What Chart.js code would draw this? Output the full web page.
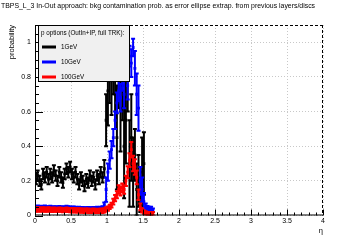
<!DOCTYPE html>
<html>
<head>
<meta charset="utf-8">
<script src="https://cdn.jsdelivr.net/npm/chart.js@4.4.0/dist/chart.umd.min.js"></script>
<style>
  html, body { margin: 0; padding: 0; background: #fff; }
  #wrap { width: 360px; height: 240px; }
</style>
</head>
<body>
<div id="wrap"><canvas id="c"></canvas></div>
<script>
// ---- data ----
const titleText = 'TBPS_L_3 In-Out approach: bkg contamination prob. as error ellipse extrap. from previous layers/discs';
const legendHeader = 'p options (OutIn+IP, full TRK):';
const seriesNames = ['1GeV', '10GeV', '100GeV'];
const seriesColors = ['#000000', '#0000ff', '#ff0000'];

const xTicks = [0, 0.5, 1, 1.5, 2, 2.5, 3, 3.5, 4];
const yTicks = [0, 0.2, 0.4, 0.6, 0.8, 1];
const binHalf = 0.0125;

const eta = [
  0.0125, 0.0375, 0.0625, 0.0875, 0.1125, 0.1375, 0.1625, 0.1875, 0.2125, 0.2375,
  0.2625, 0.2875, 0.3125, 0.3375, 0.3625, 0.3875, 0.4125, 0.4375, 0.4625, 0.4875,
  0.5125, 0.5375, 0.5625, 0.5875, 0.6125, 0.6375, 0.6625, 0.6875, 0.7125, 0.7375,
  0.7625, 0.7875, 0.8125, 0.8375, 0.8625, 0.8875, 0.9125, 0.9375, 0.9625, 0.9875,
  1.0125, 1.0375, 1.0625, 1.0875, 1.1125, 1.1375, 1.1625, 1.1875, 1.2125, 1.2375,
  1.2625, 1.2875, 1.3125, 1.3375, 1.3625, 1.3875, 1.4125, 1.4375, 1.4625, 1.4875,
  1.5125, 1.5375, 1.5625, 1.5875, 1.6125, 1.6375
];

const p1 = [
  0.21, 0.23, 0.20, 0.18, 0.24, 0.22, 0.25, 0.21, 0.24, 0.22,
  0.26, 0.23, 0.20, 0.25, 0.22, 0.19, 0.24, 0.27, 0.25, 0.28,
  0.24, 0.22, 0.25, 0.21, 0.18, 0.22, 0.20, 0.17, 0.21, 0.19,
  0.23, 0.20, 0.22, 0.18, 0.23, 0.21, 0.25, 0.22, 0.27, 0.55,
  0.72, 0.85, 0.78, 0.90, 0.70, 0.45, 0.82, 0.62, 0.75, 0.40,
  0.55, 0.80, 0.30, 0.45, 0.25, 0.35, 0.15, 0.20, 0.12, 0.25,
  0.30, null, null, null, null, null
];
const e1 = [
  0.03, 0.03, 0.03, 0.03, 0.03, 0.03, 0.03, 0.03, 0.03, 0.03,
  0.03, 0.03, 0.03, 0.03, 0.03, 0.03, 0.03, 0.03, 0.03, 0.03,
  0.03, 0.03, 0.03, 0.03, 0.03, 0.03, 0.03, 0.03, 0.03, 0.03,
  0.03, 0.03, 0.03, 0.03, 0.03, 0.03, 0.03, 0.03, 0.05, 0.15,
  0.20, 0.20, 0.20, 0.20, 0.20, 0.30, 0.20, 0.25, 0.20, 0.30,
  0.25, 0.20, 0.25, 0.25, 0.20, 0.15, 0.15, 0.15, 0.10, 0.20,
  0.18, null, null, null, null, null
];

const p10 = [
  0.045, 0.050, 0.045, 0.048, 0.045, 0.050, 0.046, 0.045, 0.048, 0.044,
  0.046, 0.045, 0.044, 0.047, 0.045, 0.043, 0.046, 0.048, 0.045, 0.044,
  0.042, 0.044, 0.043, 0.041, 0.042, 0.040, 0.041, 0.039, 0.040, 0.041,
  0.039, 0.040, 0.041, 0.040, 0.042, 0.041, 0.043, 0.045, 0.060, 0.150,
  0.250, 0.320, 0.380, 0.450, 0.550, 0.650, 0.720, 0.680, 0.780, 0.700,
  0.850, 0.750, 0.920, 0.880, 0.970, 0.850, 0.700, 0.620, 0.200, 0.150,
  0.080, 0.050, 0.040, 0.040, 0.040, 0.030
];
const e10 = [
  0.008, 0.008, 0.008, 0.008, 0.008, 0.008, 0.008, 0.008, 0.008, 0.008,
  0.008, 0.008, 0.008, 0.008, 0.008, 0.008, 0.008, 0.008, 0.008, 0.008,
  0.008, 0.008, 0.008, 0.008, 0.008, 0.008, 0.008, 0.008, 0.008, 0.008,
  0.008, 0.008, 0.008, 0.008, 0.008, 0.008, 0.008, 0.008, 0.015, 0.07,
  0.05, 0.05, 0.05, 0.05, 0.05, 0.06, 0.06, 0.08, 0.06, 0.08,
  0.06, 0.08, 0.06, 0.08, 0.05, 0.10, 0.12, 0.13, 0.08, 0.07,
  0.05, 0.02, 0.015, 0.01, 0.01, 0.01
];

const p100 = [
  0.035, 0.034, 0.036, 0.033, 0.035, 0.034, 0.033, 0.035, 0.034, 0.032,
  0.034, 0.033, 0.032, 0.034, 0.033, 0.031, 0.032, 0.034, 0.032, 0.031,
  0.030, 0.031, 0.030, 0.029, 0.030, 0.028, 0.029, 0.027, 0.028, 0.028,
  0.026, 0.027, 0.028, 0.026, 0.027, 0.026, 0.028, 0.027, 0.030, 0.035,
  0.040, 0.050, 0.060, 0.080, 0.100, 0.120, 0.150, 0.140, 0.160, 0.150,
  0.200, 0.250, 0.320, 0.380, 0.300, 0.280, 0.220, 0.120, 0.050, 0.030,
  0.020, 0.015, 0.010, 0.010, 0.010, 0.010
];
const e100 = [
  0.012, 0.012, 0.012, 0.012, 0.012, 0.012, 0.012, 0.012, 0.012, 0.012,
  0.012, 0.012, 0.012, 0.012, 0.012, 0.012, 0.012, 0.012, 0.012, 0.012,
  0.012, 0.012, 0.012, 0.012, 0.012, 0.012, 0.012, 0.012, 0.012, 0.012,
  0.012, 0.012, 0.012, 0.012, 0.012, 0.012, 0.012, 0.012, 0.012, 0.012,
  0.012, 0.012, 0.014, 0.016, 0.018, 0.020, 0.025, 0.025, 0.025, 0.025,
  0.030, 0.035, 0.040, 0.045, 0.045, 0.045, 0.040, 0.030, 0.020, 0.012,
  0.010, 0.010, 0.010, 0.010, 0.010, 0.010
];

const values = [p1, p10, p100];
const errors = [e1, e10, e100];

// ---- helpers ----
const FONT = '"Liberation Sans", Arial, sans-serif';

function toPoints(ys) {
  return eta.map((x, i) => ys[i] == null ? null : { x: x, y: ys[i] }).filter(p => p);
}
function toErrs(ys, es) {
  return eta.map((x, i) => ys[i] == null ? null : es[i]).filter(e => e != null);
}

// error bars (vertical + bin width), drawn with each dataset
const errorBars = {
  id: 'errorBars',
  afterDatasetDraw(chart, args) {
    const ds = chart.data.datasets[args.index];
    const xs = chart.scales.x, ys = chart.scales.y;
    const ctx = chart.ctx;
    const area = chart.chartArea;
    ctx.save();
    ctx.beginPath();
    ctx.rect(area.left, area.top, area.right - area.left, area.bottom - area.top);
    ctx.clip();
    ctx.strokeStyle = ds.borderColor;
    ctx.lineWidth = 2;
    ds.data.forEach((p, i) => {
      const err = ds.errs[i];
      const px = xs.getPixelForValue(p.x);
      const yTop = ys.getPixelForValue(p.y + err);
      const yBot = ys.getPixelForValue(Math.max(0, p.y - err));
      const xl = xs.getPixelForValue(p.x - binHalf);
      const xr = xs.getPixelForValue(p.x + binHalf);
      const py = ys.getPixelForValue(p.y);
      ctx.beginPath();
      ctx.moveTo(px, yTop); ctx.lineTo(px, yBot);
      ctx.moveTo(xl, py); ctx.lineTo(xr, py);
      ctx.moveTo(px - 2, yTop); ctx.lineTo(px + 2, yTop);
      ctx.moveTo(px - 2, yBot); ctx.lineTo(px + 2, yBot);
      ctx.stroke();
    });
    ctx.restore();
  }
};

// frame, inner ticks, titles, legend box
const decor = {
  id: 'decor',
  afterDraw(chart) {
    const ctx = chart.ctx;
    const a = chart.chartArea;
    const xs = chart.scales.x, ys = chart.scales.y;
    ctx.save();
    ctx.strokeStyle = '#000';
    ctx.lineWidth = 1;

    // dashed top/right frame
    ctx.setLineDash([3, 2]);
    ctx.beginPath();
    ctx.moveTo(a.left, a.top + 0.5); ctx.lineTo(a.right, a.top + 0.5);
    ctx.moveTo(a.right - 0.5, a.top); ctx.lineTo(a.right - 0.5, a.bottom);
    ctx.stroke();
    ctx.setLineDash([]);

    // solid axes
    ctx.beginPath();
    ctx.moveTo(a.left + 0.5, a.top); ctx.lineTo(a.left + 0.5, a.bottom);
    ctx.moveTo(a.left, a.bottom - 0.5); ctx.lineTo(a.right, a.bottom - 0.5);
    ctx.stroke();

    // x ticks (inside)
    ctx.beginPath();
    for (let k = 0; k <= 40; k++) {
      const v = k * 0.1;
      const px = Math.round(xs.getPixelForValue(v)) + 0.5;
      const len = (k % 5 === 0) ? 6 : 3;
      ctx.moveTo(px, a.bottom); ctx.lineTo(px, a.bottom - len);
    }
    // y ticks (inside)
    for (let k = 0; k <= 22; k++) {
      const v = k * 0.05;
      const py = Math.round(ys.getPixelForValue(v)) + 0.5;
      const len = (k % 4 === 0) ? 8 : 4;
      ctx.moveTo(a.left, py); ctx.lineTo(a.left + len, py);
    }
    ctx.stroke();

    // main title
    ctx.fillStyle = '#000';
    ctx.font = '6.9px ' + FONT;
    ctx.textBaseline = 'middle';
    ctx.textAlign = 'left';
    ctx.fillText(titleText, 1, 6);

    // axis titles
    ctx.font = '7.5px ' + FONT;
    ctx.textAlign = 'right';
    ctx.fillText('\u03b7', a.right, 231);
    ctx.save();
    ctx.translate(12, a.top);
    ctx.rotate(-Math.PI / 2);
    ctx.textAlign = 'right';
    ctx.fillText('probability', 0, 0);
    ctx.restore();

    // legend box
    const lx = 38, ly = 25, lw = 91, lh = 56;
    ctx.fillStyle = '#f0f0f0';
    ctx.fillRect(lx, ly, lw, lh);
    ctx.strokeStyle = '#000';
    ctx.lineWidth = 1;
    ctx.strokeRect(lx + 0.5, ly + 0.5, lw, lh);
    ctx.fillStyle = '#000';
    ctx.font = '6.3px ' + FONT;
    ctx.textAlign = 'left';
    ctx.fillText(legendHeader, 41, 33);
    const rowY = [47, 62, 77];
    seriesNames.forEach((name, i) => {
      ctx.strokeStyle = seriesColors[i];
      ctx.lineWidth = 3;
      ctx.beginPath();
      ctx.moveTo(42, rowY[i]); ctx.lineTo(56, rowY[i]);
      ctx.stroke();
      ctx.fillStyle = '#000';
      ctx.fillText(name, 61, rowY[i]);
    });
    ctx.restore();
  }
};

const datasets = values.map((ys, i) => ({
  label: seriesNames[i],
  data: toPoints(ys),
  errs: toErrs(ys, errors[i]),
  borderColor: seriesColors[i],
  backgroundColor: seriesColors[i],
  pointStyle: 'rect',
  pointRadius: 2,
  pointBorderWidth: 0,
  showLine: false,
  order: 3 - i
}));

new Chart(document.getElementById('c'), {
  type: 'scatter',
  data: { datasets: datasets },
  plugins: [errorBars, decor],
  options: {
    responsive: true,
    maintainAspectRatio: false,
    animation: false,
    layout: { padding: { left: 0, right: 37, top: 25, bottom: 0 } },
    plugins: {
      legend: { display: false },
      title: { display: false },
      tooltip: { enabled: false }
    },
    scales: {
      x: {
        type: 'linear',
        min: 0,
        max: 4,
        afterBuildTicks: s => { s.ticks = xTicks.map(v => ({ value: v })); },
        afterFit: s => { s.height = 24.5; },
        ticks: {
          color: '#000',
          font: { family: FONT, size: 7 },
          padding: 1,
          maxRotation: 0,
          callback: v => String(v)
        },
        grid: { color: '#c8c8c8', drawTicks: false },
        border: { display: false, dash: [1, 2] }
      },
      y: {
        min: 0,
        max: 1.1,
        afterBuildTicks: s => { s.ticks = yTicks.map(v => ({ value: v })); },
        afterFit: s => { s.width = 35; },
        ticks: {
          color: '#000',
          font: { family: FONT, size: 7 },
          padding: 4,
          callback: v => String(v)
        },
        grid: { color: '#c8c8c8', drawTicks: false },
        border: { display: false, dash: [1, 2] }
      }
    }
  }
});
</script>
</body>
</html>
